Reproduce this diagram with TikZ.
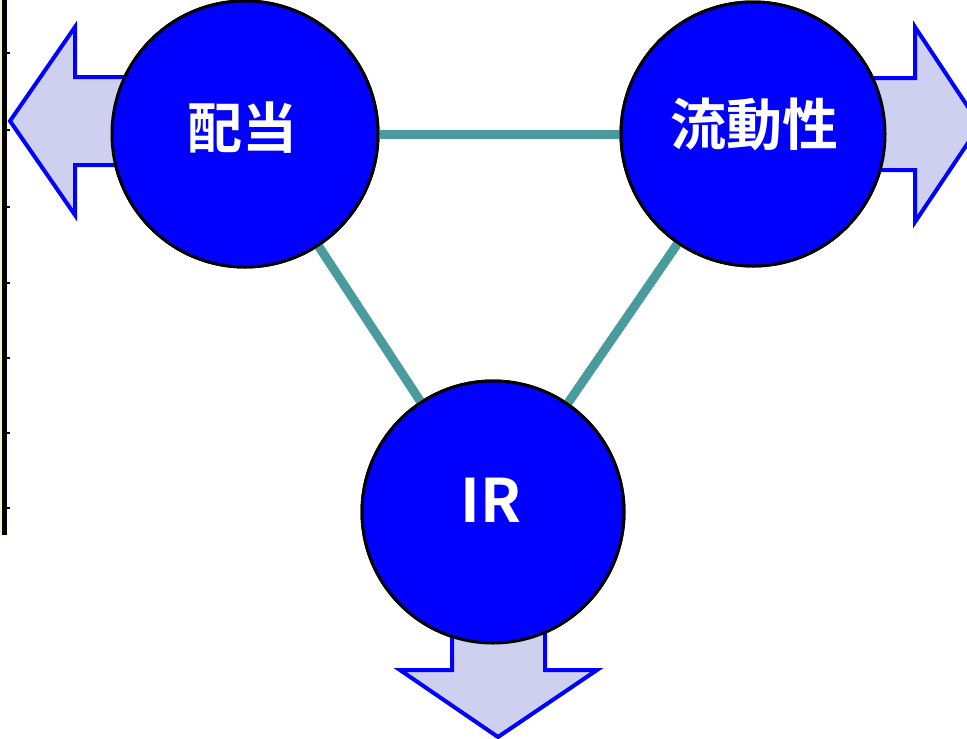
\documentclass[tikz,border=0pt]{standalone}
\usepackage{fontspec}
\newfontfamily\cjk{Noto Sans CJK JP Bold}
\definecolor{teal1}{HTML}{4A9B9E}
\definecolor{arrfill}{HTML}{CDD0EE}
\definecolor{cream}{HTML}{F2EFD2}
\begin{document}
\begin{tikzpicture}[x=1pt,y=-1pt,
  ball/.style={circle,draw=black,line width=3pt,fill={rgb,255:red,0;green,0;blue,255},minimum size=#1,inner sep=0pt},
  lbl/.style={text=white,font=\cjk\fontsize{#1}{#1}\selectfont},
  link/.style={draw=teal1,line width=9pt},
  bigarrow/.style={draw={rgb,255:red,0;green,0;blue,255},fill=arrfill,line width=4pt,line join=miter},
  axis/.style={draw=black,line width=4.5pt},
  tick/.style={draw=black,line width=2.5pt}]
\useasboundingbox (0,0) rectangle (967,739);
\begin{scope}
\clip (0,0) rectangle (967,739);
% left axis strip
\fill[cream] (0,0) rectangle (3,535);
\draw[axis] (4.5,0) -- (4.5,535);
\foreach \yy in {53,130,207,283,358,433,508} \draw[tick] (4.5,\yy) -- (10,\yy);
% nodes
\node[ball=266pt] (div) at (245,134) {};
\node[ball=264pt] (liq) at (753,134) {};
\node[ball=262pt] (ir) at (493,512) {};
% connectors
\draw[link] (div) -- (liq);
\draw[link] (div) -- (ir);
\draw[link] (liq) -- (ir);
% arrows
\draw[bigarrow] (10,121) -- (75,27) -- (75,77) -- (135,77) -- (135,165) -- (75,165) -- (75,215) -- cycle;
\draw[bigarrow] (980,125) -- (915,27) -- (915,78) -- (860,78) -- (860,170) -- (915,170) -- (915,222) -- cycle;
\draw[bigarrow] (498,737) -- (400,670) -- (452,670) -- (452,600) -- (545,600) -- (545,670) -- (597,670) -- cycle;
% circles on top
\node[ball=266pt] at (div) {};
\node[ball=264pt] at (liq) {};
\node[ball=262pt] at (ir) {};
\node[lbl=55] (t1) at (242,128) {配当};
\node[lbl=56] (t2) at (754,124) {流動性};
\node[lbl=60] (t3) at (491,500) {IR};
\end{scope}
\end{tikzpicture}
\end{document}
